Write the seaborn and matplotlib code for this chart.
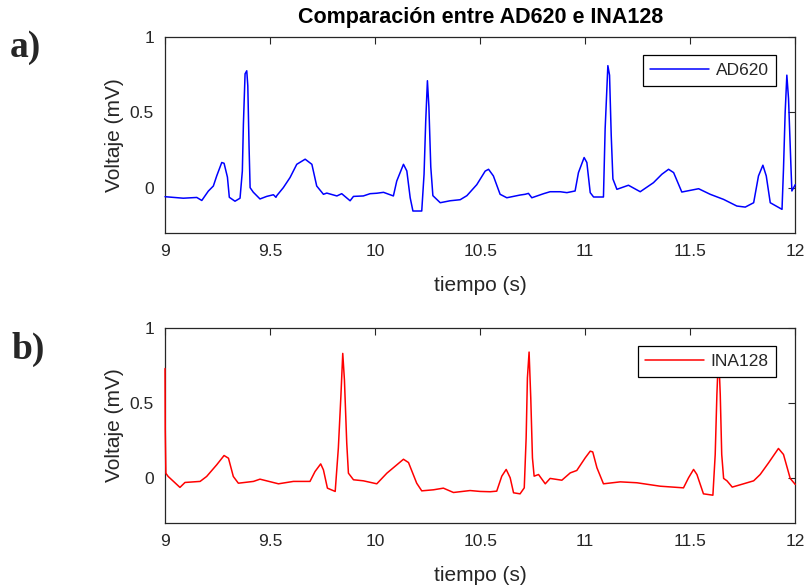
import matplotlib
matplotlib.use("Agg")
import matplotlib.pyplot as plt
import seaborn as sns

# AD620 trace
t_ad620 = [9.0, 9.087, 9.151, 9.175, 9.206, 9.23, 9.246, 9.27, 9.281, 9.297, 9.306, 9.333,
           9.357, 9.368, 9.373, 9.381, 9.389, 9.394, 9.4, 9.405, 9.42, 9.452, 9.484, 9.516,
           9.528, 9.532, 9.563, 9.595, 9.627, 9.667, 9.699, 9.722, 9.754, 9.77, 9.818, 9.841,
           9.881, 9.897, 9.944, 9.976, 10.008, 10.04, 10.087,
           10.103, 10.135, 10.151, 10.167, 10.18, 10.222, 10.233, 10.241, 10.249, 10.256,
           10.265, 10.275, 10.31, 10.357, 10.405, 10.437, 10.484, 10.524, 10.54, 10.563,
           10.595, 10.627, 10.69, 10.714, 10.73, 10.746, 10.802, 10.833, 10.881, 10.913, 10.952,
           10.968, 10.995, 11.008,
           11.024, 11.04, 11.087, 11.095, 11.108, 11.116, 11.124, 11.132, 11.151, 11.206,
           11.262, 11.325, 11.365, 11.397, 11.421, 11.46, 11.54, 11.595, 11.659, 11.722,
           11.762, 11.802, 11.825, 11.846, 11.862, 11.881, 11.937, 11.944, 11.952, 11.96,
           11.968, 11.98, 11.984, 12.0]
v_ad620 = [-0.06, -0.07, -0.065, -0.085, -0.023, 0.011, 0.078, 0.167, 0.162, 0.07, -0.064, -0.09,
           -0.07, 0.11, 0.42, 0.756, 0.776, 0.676, 0.27, 0.0, -0.03, -0.075, -0.058, -0.047,
           -0.064, -0.053, 0.0, 0.067, 0.155, 0.189, 0.155, 0.011, -0.044, -0.036, -0.055, -0.04,
           -0.087, -0.058, -0.055, -0.04, -0.037, -0.031, -0.055,
           0.044, 0.155, 0.111, -0.067, -0.155, -0.155, 0.089, 0.444, 0.71, 0.538,
           0.138, -0.053, -0.1, -0.087, -0.08, -0.053, 0.02, 0.11, 0.122, 0.078,
           -0.044, -0.067, -0.049, -0.044, -0.038, -0.067, -0.04, -0.027, -0.027, -0.033, -0.022,
           0.1, 0.2, 0.167,
           -0.033, -0.062, -0.062, 0.39, 0.81, 0.747, 0.347, 0.058, -0.011, 0.016,
           -0.027, 0.033, 0.089, 0.122, 0.1, -0.029, -0.007, -0.044, -0.078, -0.122,
           -0.129, -0.1, 0.078, 0.149, 0.078, -0.1, -0.144, 0.122, 0.5, 0.747,
           0.591, 0.122, -0.022, 0.02]

# INA128 trace
t_ina128 = [9.0, 9.001, 9.004, 9.015, 9.071, 9.095, 9.167, 9.198, 9.246, 9.281, 9.302, 9.325,
            9.349, 9.421, 9.452, 9.54, 9.611, 9.69, 9.714, 9.741, 9.754, 9.773, 9.81, 9.825,
            9.837, 9.846, 9.854, 9.865, 9.873, 9.897, 9.944, 10.008, 10.056, 10.135, 10.159,
            10.198, 10.222, 10.278, 10.325, 10.373, 10.452, 10.5, 10.548, 10.579, 10.603,
            10.624, 10.643, 10.659, 10.69, 10.71, 10.719, 10.725, 10.733, 10.741, 10.749,
            10.757, 10.778, 10.81, 10.833, 10.889, 10.929, 10.96, 11.0, 11.024, 11.036,
            11.056, 11.087, 11.167, 11.246, 11.357, 11.468, 11.492, 11.516, 11.532, 11.563,
            11.608, 11.619, 11.627, 11.635, 11.643, 11.65, 11.659, 11.675, 11.7, 11.754,
            11.802, 11.833, 11.873, 11.92, 11.944, 11.976, 12.0]
v_ina128 = [0.73, 0.32, 0.03, 0.009, -0.064, -0.031, -0.024, 0.009, 0.087, 0.149, 0.131, 0.009,
            -0.036, -0.024, -0.009, -0.04, -0.024, -0.024, 0.042, 0.093, 0.053, -0.069, -0.091, 0.198,
            0.542, 0.831, 0.653, 0.231, 0.031, -0.013, -0.02, -0.04, 0.031, 0.124, 0.102,
            -0.036, -0.087, -0.08, -0.069, -0.098, -0.085, -0.091, -0.093, -0.089, 0.011,
            0.056, 0.0, -0.1, -0.107, -0.067, 0.267, 0.667, 0.84, 0.533, 0.133,
            0.011, 0.022, -0.04, -0.004, -0.016, 0.033, 0.049, 0.133, 0.178, 0.173,
            0.067, -0.04, -0.027, -0.033, -0.056, -0.067, 0.0, 0.056, 0.022, -0.107,
            -0.116, 0.156, 0.556, 0.84, 0.556, 0.156, -0.004, -0.02, -0.062, -0.04,
            -0.02, 0.022, 0.1, 0.196, 0.156, -0.004, -0.044]

x_ticks = [9, 9.5, 10, 10.5, 11, 11.5, 12]
x_labels = ["9", "9.5", "10", "10.5", "11", "11.5", "12"]
y_ticks = [0, 0.5, 1]
y_labels = ["0", "0.5", "1"]

sns.set_style("white")
plt.rcParams["font.family"] = ["Liberation Sans", "DejaVu Sans"]
grey = "#262626"

fig = plt.figure(figsize=(8.09, 5.88), dpi=100)
ax1 = fig.add_axes([0.204, 0.604, 0.779, 0.333])
ax2 = fig.add_axes([0.204, 0.111, 0.779, 0.331])

panels = [
    (ax1, t_ad620, v_ad620, "blue", "AD620"),
    (ax2, t_ina128, v_ina128, "red", "INA128"),
]
for ax, t, v, c, name in panels:
    sns.lineplot(x=t, y=v, estimator=None, sort=False, color=c, linewidth=1.1,
                 label=name, ax=ax, zorder=3, clip_on=False)
    ax.set_xlim(9, 12)
    ax.set_ylim(-0.3, 1)
    ax.set_xticks(x_ticks)
    ax.set_xticklabels(x_labels)
    ax.set_yticks(y_ticks)
    ax.set_yticklabels(y_labels)
    ax.tick_params(direction="in", length=5, width=0.8, top=True, right=True,
                   labelsize=12.5, colors=grey, pad=8)
    for sp in ax.spines.values():
        sp.set_color(grey)
        sp.set_linewidth(0.9)
    ax.set_xlabel("tiempo (s)", fontsize=15, color=grey, labelpad=12)
    ax.set_ylabel("Voltaje (mV)", fontsize=15, color=grey, labelpad=4)
    leg = ax.legend(loc="upper right", bbox_to_anchor=(0.970, 0.908), fontsize=12.5,
                    handlelength=3.4, handletextpad=0.35, borderpad=0.45,
                    fancybox=False, framealpha=1, borderaxespad=0)
    leg.get_frame().set_edgecolor("black")
    leg.get_frame().set_linewidth(0.9)
    leg.set_zorder(5)
    for txt in leg.get_texts():
        txt.set_color(grey)

ax1.set_title("Comparación entre AD620 e INA128", fontsize=15.5, fontweight="bold",
              color="black", pad=10)

fig.text(0.012, 0.903, "a)", fontsize=27, fontweight="bold", family="Liberation Serif")
fig.text(0.014, 0.39, "b)", fontsize=27, fontweight="bold", family="Liberation Serif")

fig.savefig("out.png", dpi=100)
